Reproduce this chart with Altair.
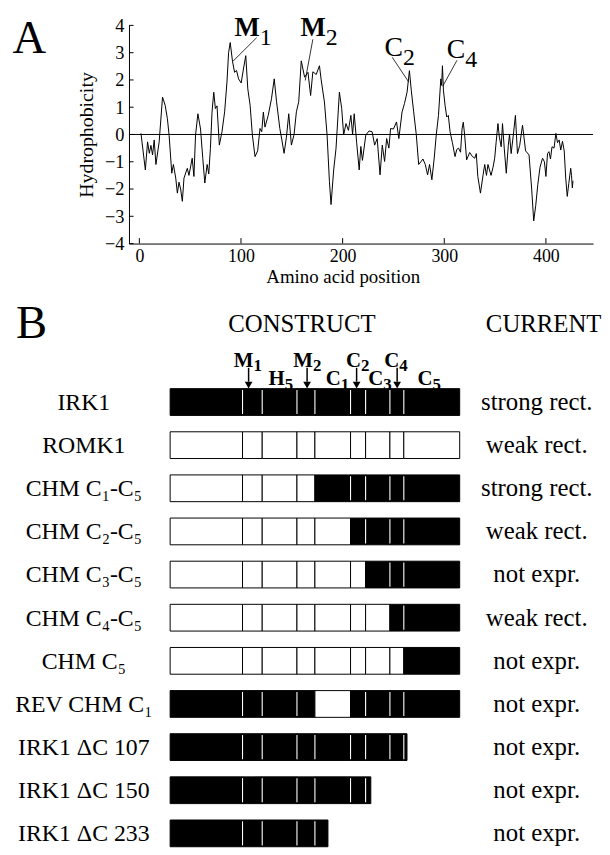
import altair as alt
import pandas as pd

FONT = "Liberation Serif"

# ---------------- Panel A: hydrophobicity profile ----------------
aa_pos = [1.6, 5.9, 8.1, 9.8, 11.4, 13.0, 14.6, 16.3, 19.5, 22.8, 25.4, 27.6, 29.3, 31.9, 33.5,
          35.8, 37.4, 39.0, 40.6, 42.3, 43.9, 47.2, 48.8, 52.0, 53.7, 55.3, 57.6, 60.2, 62.4,
          64.4, 66.7, 68.3, 69.9, 71.5, 73.2, 74.8, 76.4, 78.7, 81.3, 83.9, 86.2, 87.8, 89.4,
          91.7, 93.7, 95.6, 97.6, 100.2, 102.4, 104.7, 106.7, 109.0, 111.2, 113.8, 116.4,
          118.7, 120.4, 122.0, 123.6, 126.8, 130.0, 132.7, 135.0, 138.2, 140.2, 142.4, 144.7,
          147.0, 149.6, 152.2, 154.5, 156.8, 159.3, 162.6, 165.9, 168.5, 170.7, 174.0, 177.2,
          178.9, 182.1, 184.7, 187.0, 188.6, 191.2, 193.5, 196.8, 199.1, 201.0, 203.3, 205.7,
          208.1, 209.8, 211.4, 213.8, 216.3, 217.9, 219.5, 222.8, 226.0, 229.0, 231.5, 234.0,
          236.8, 239.0, 241.3, 243.3, 245.5, 247.2, 250.0, 253.0, 255.3, 258.5, 260.8, 263.4,
          265.7, 267.6, 269.9, 272.5, 274.8, 277.0, 279.0, 281.3, 283.6, 285.5, 287.8, 290.1,
          292.1, 294.3, 296.6, 297.4, 298.2, 299.2, 300.8, 302.4, 304.0, 305.7, 308.0, 310.6,
          312.3, 314.0, 316.0, 317.5, 318.7, 320.0, 322.0, 325.0, 327.5, 330.0, 331.5, 333.0,
          335.6, 338.2, 339.8, 341.5, 343.0, 344.5, 346.0, 348.0, 349.6, 351.0, 352.8, 354.2,
          356.0, 357.3, 359.0, 361.0, 363.0, 364.2, 365.8, 368.0, 370.0, 372.0, 374.2, 377.0,
          380.0, 383.4, 386.0, 388.0, 390.0, 392.0, 394.2, 396.7, 398.5, 400.0, 401.6, 403.0,
          404.5, 406.0, 408.0, 409.8, 411.4, 413.0, 414.6, 416.3, 418.0, 419.5, 421.0, 422.5,
          424.4, 425.2, 426.0, 426.6]
hydro = [0.04, -1.3, -0.27, -0.69, -0.4, -0.75, -0.2, -1.1, -0.27, 1.37, 1.07, 0.58, -0.04,
         -1.42, -1.1, -1.6, -2.15, -1.75, -2.0, -2.45, -1.6, -1.24, -1.5, -0.87, -1.54, -0.02,
         0.76, 0.2, -0.87, -1.78, -1.1, -1.45, -0.51, 0.82, 1.55, 0.95, 1.05, -0.39, 0.1, 0.83,
         1.92, 3.0, 3.37, 2.67, 2.28, 2.35, 2.04, 1.89, 2.4, 2.89, 1.67, 1.07, -0.02, -0.81,
         -0.6, 0.22, 0.1, 0.82, 0.27, 0.7, 1.31, 2.04, 1.2, 0.22, -0.2, -0.69, -0.1, 0.76,
         -0.39, 0.0, 0.83, 1.2, 2.7, 2.1, 2.28, 1.43, 2.3, 2.2, 2.52, 2.0, 1.19, -0.02, -1.72,
         -2.57, -1.3, -0.51, 1.55, 0.95, -0.02, 0.4, 0.15, 0.7, 0.0, 0.76, -0.3, -1.3, -0.44,
         -0.95, -0.02, 0.13, 0.1, -0.39, -0.15, -1.48, -0.39, -0.99, -0.15, -0.5, 0.22, 0.2,
         0.46, -0.15, 0.83, 1.13, 1.55, 2.34, 1.6, 0.83, -0.02, -1.1, -1.0, -0.9, -1.1, -1.48,
         -1.1, -1.66, -0.87, -0.02, 0.7, 2.04, 1.8, 2.52, 1.6, 1.07, 0.64, 0.7, 0.1, -0.3,
         -0.81, -0.55, -0.5, -0.65, 0.2, 0.45, 0.0, -0.93, -0.66, -0.8, -0.87, -0.7, -1.54,
         -2.15, -1.48, -1.1, -1.5, -1.1, -1.3, -1.5, -1.2, -0.87, -0.3, 0.4, -0.1, -0.45, 0.4,
         -0.5, -1.42, -0.4, 0.0, -0.7, 0.0, 0.7, -0.7, -0.4, 0.34, -0.6, -0.75, -2.0, -3.17,
         -2.6, -1.84, -1.2, -0.87, -1.0, -1.54, -0.7, -0.63, -0.9, -0.45, -0.5, 0.04, -0.3,
         -0.2, -0.57, -0.25, -0.6, -1.6, -2.27, -1.8, -1.24, -1.5, -1.96, -1.7]

x_ticks = [0, 100, 200, 300, 400]
y_ticks = [-4, -3, -2, -1, 0, 1, 2, 3, 4]
x_title = "Amino acid position"
y_title = "Hydrophobicity"
x_domain = [-10.2, 446.4]
y_domain = [-4, 4]

peak_main = ["M", "M", "C", "C"]
peak_sub = ["1", "2", "2", "4"]
peak_weight = ["bold", "bold", "normal", "normal"]
peak_text_x = [118.5, 183.4, 259.5, 320.6]
peak_text_y = [3.615, 3.615, 2.887, 2.79]
lead_x1 = [115.4, 170.7, 248.8, 312.5]
lead_y1 = [3.55, 3.49, 2.83, 2.72]
lead_x2 = [91.7, 163.2, 265.1, 298.5]
lead_y2 = [2.67, 1.98, 1.92, 1.77]

panel_a_letter = ["A"]
panel_a_letter_x = [-124.9]
panel_a_letter_y = [3.0]

# ---------------- Panel B: chimeric constructs ----------------
constructs = ["IRK1", "ROMK1", "CHM C₁-C₅", "CHM C₂-C₅", "CHM C₃-C₅", "CHM C₄-C₅",
              "CHM C₅", "REV CHM C₁", "IRK1 ΔC 107", "IRK1 ΔC 150", "IRK1 ΔC 233"]
currents = ["strong rect.", "weak rect.", "strong rect.", "weak rect.", "not expr.",
            "weak rect.", "not expr.", "not expr.", "not expr.", "not expr.", "not expr."]
segments = ["N", "M1", "H5", "M2", "C1", "C2", "C3", "C4", "C5"]
seg_edges = [0, 25.0, 31.8, 43.8, 50.0, 62.3, 67.5, 75.9, 80.7, 100.0]
# K = IRK1-derived (black), R = ROMK1-derived (white)
origin = ["KKKKKKKKK", "RRRRRRRRR", "RRRRKKKKK", "RRRRRKKKK", "RRRRRRKKK", "RRRRRRRKK",
          "RRRRRRRRK", "KKKKRKKKK", "KKKKKKKKK", "KKKKKKKKK", "KKKKKKKKK"]
bar_end = [100, 100, 100, 100, 100, 100, 100, 100, 81.8, 69.3, 54.5]

arrow_x = [27.1, 47.3, 64.4, 78.4]
top_main = ["M", "M", "C", "C"]
top_sub = ["1", "2", "2", "4"]
top_x = [28.8, 49.3, 65.9, 79.1]
low_main = ["H", "C", "C", "C"]
low_sub = ["5", "1", "3", "5"]
low_x = [39.6, 58.9, 73.6, 90.6]

headers = ["CONSTRUCT", "CURRENT"]
header_x = [45.5, 129.0]
panel_b_letter = ["B"]
panel_b_letter_x = [-53.2]

label_x = -29.8
current_x = 126.6
xb_domain = [-14.21, 146.06]
yb_domain = [-2.478, 10.304]
HALF = 0.31

# ---------- build panel A ----------
WA, HA = 468, 220
xs = alt.Scale(domain=x_domain, nice=False, zero=False)
ys = alt.Scale(domain=y_domain, nice=False, zero=False)

ax_x = alt.Axis(values=x_ticks, format="d", grid=False, ticks=False, tickSize=0,
                labelPadding=4, labelFontSize=18, labelFlush=False, labelOverlap=False,
                domainColor="black", titleFontSize=19, titleFontWeight="normal",
                titleX=215.5, titleY=39.3, titleBaseline="alphabetic", titleAlign="center")
ax_y = alt.Axis(values=y_ticks, format="d", grid=False, ticks=False, tickSize=0,
                labelPadding=5, labelFontSize=18.5, labelFlush=False, labelOverlap=False,
                domainColor="black", titleFontSize=20, titleFontWeight="normal",
                titleX=-42.5, titleY=110, titleBaseline="middle", titleAlign="center")


def XA(f):
    return alt.X(f, scale=xs, title=x_title, axis=ax_x)


def YA(f):
    return alt.Y(f, scale=ys, title=y_title, axis=ax_y)


df_h = pd.DataFrame({"pos": aa_pos, "h": hydro})
line = alt.Chart(df_h).mark_line(color="black", strokeWidth=1).encode(
    x=XA("pos:Q"), y=YA("h:Q"))

zero = alt.Chart(pd.DataFrame({"h": [0]})).mark_rule(color="black", strokeWidth=1).encode(
    y=YA("h:Q"))

df_xt = pd.DataFrame({"pos": x_ticks, "y0": [y_domain[0]] * len(x_ticks)})
xtick = alt.Chart(df_xt).transform_calculate(y1="datum.y0 + 0.2").mark_rule(
    color="black", strokeWidth=1).encode(x=XA("pos:Q"), y=YA("y0:Q"), y2="y1:Q")

df_yt = pd.DataFrame({"h": y_ticks, "x0": [x_domain[0]] * len(y_ticks)})
ytick = alt.Chart(df_yt).transform_calculate(x1="datum.x0 + 4.5").mark_rule(
    color="black", strokeWidth=1).encode(y=YA("h:Q"), x=XA("x0:Q"), x2="x1:Q")

df_lead = pd.DataFrame({"x1": lead_x1, "y1": lead_y1, "x2": lead_x2, "y2": lead_y2})
leads = alt.Chart(df_lead).mark_rule(color="black", strokeWidth=0.8).encode(
    x=XA("x1:Q"), y=YA("y1:Q"), x2="x2:Q", y2="y2:Q")

df_pk = pd.DataFrame({"x": peak_text_x, "y": peak_text_y, "m": peak_main, "s": peak_sub,
                      "w": peak_weight})
pk_bold = alt.Chart(df_pk).transform_filter("datum.w == 'bold'").mark_text(
    align="right", baseline="alphabetic", fontSize=27, fontWeight="bold", color="black").encode(
    x=XA("x:Q"), y=YA("y:Q"), text="m:N")
pk_norm = alt.Chart(df_pk).transform_filter("datum.w == 'normal'").mark_text(
    align="right", baseline="alphabetic", fontSize=28, color="black").encode(
    x=XA("x:Q"), y=YA("y:Q"), text="m:N")
pk_sub = alt.Chart(df_pk).mark_text(
    align="left", baseline="alphabetic", fontSize=24, dy=9, color="black").encode(
    x=XA("x:Q"), y=YA("y:Q"), text="s:N")

df_la = pd.DataFrame({"x": panel_a_letter_x, "y": panel_a_letter_y, "t": panel_a_letter})
letter_a = alt.Chart(df_la).mark_text(
    align="left", baseline="alphabetic", fontSize=47, color="black").encode(
    x=XA("x:Q"), y=YA("y:Q"), text="t:N")

panel_a = alt.layer(line, zero, xtick, ytick, leads, pk_bold, pk_norm, pk_sub, letter_a
                    ).properties(width=WA, height=HA)

# ---------- build panel B ----------
WB, HB = 468, 556
xbs = alt.Scale(domain=xb_domain, nice=False, zero=False)
ybs = alt.Scale(domain=yb_domain, nice=False, zero=False, reverse=True)


def XB(f):
    return alt.X(f, scale=xbs, axis=None)


def YB(f):
    return alt.Y(f, scale=ybs, axis=None)


rect_rows, div_rows = [], []
for r, (orig, end) in enumerate(zip(origin, bar_end)):
    for i in range(len(segments)):
        a, b = seg_edges[i], seg_edges[i + 1]
        if a >= end:
            break
        rect_rows.append({"row": r, "x0": a, "x1": min(b, end),
                          "fill": "black" if orig[i] == "K" else "white"})
    for i in range(1, len(segments)):
        e = seg_edges[i]
        if e < end and orig[i - 1] == "K" and orig[i] == "K":
            div_rows.append({"row": r, "x": e})

df_rect = pd.DataFrame(rect_rows)
bars = alt.Chart(df_rect).transform_calculate(
    y0=f"datum.row - {HALF}", y1=f"datum.row + {HALF}").mark_rect(
    stroke="black", strokeWidth=1).encode(
    x=XB("x0:Q"), x2="x1:Q", y=YB("y0:Q"), y2="y1:Q",
    fill=alt.Fill("fill:N", scale=None, legend=None))

df_div = pd.DataFrame(div_rows)
divs = alt.Chart(df_div).transform_calculate(
    y0=f"datum.row - {HALF - 0.03}", y1=f"datum.row + {HALF - 0.03}").mark_rule(
    color="white", strokeWidth=1.1).encode(x=XB("x:Q"), y=YB("y0:Q"), y2="y1:Q")

df_rows = pd.DataFrame({"row": list(range(len(constructs))), "name": constructs,
                        "cur": currents, "lx": [label_x] * len(constructs),
                        "cx": [current_x] * len(constructs)})
names = alt.Chart(df_rows).mark_text(
    align="center", baseline="alphabetic", dy=8, fontSize=24, color="black").encode(
    x=XB("lx:Q"), y=YB("row:Q"), text="name:N")
curs = alt.Chart(df_rows).mark_text(
    align="center", baseline="alphabetic", dy=8, fontSize=25, color="black").encode(
    x=XB("cx:Q"), y=YB("row:Q"), text="cur:N")

df_head = pd.DataFrame({"x": header_x, "y": [-1.62] * 2, "t": headers})
heads = alt.Chart(df_head).mark_text(
    align="center", baseline="alphabetic", fontSize=25, color="black").encode(
    x=XB("x:Q"), y=YB("y:Q"), text="t:N")

df_lb = pd.DataFrame({"x": panel_b_letter_x, "y": [-1.48], "t": panel_b_letter})
letter_b = alt.Chart(df_lb).mark_text(
    align="left", baseline="alphabetic", fontSize=47, color="black").encode(
    x=XB("x:Q"), y=YB("y:Q"), text="t:N")

df_seg = pd.DataFrame({"x": top_x + low_x, "y": [-0.823] * 4 + [-0.402] * 4,
                       "m": top_main + low_main, "s": top_sub + low_sub})
seg_main = alt.Chart(df_seg).mark_text(
    align="right", baseline="alphabetic", fontSize=21, fontWeight="bold", color="black").encode(
    x=XB("x:Q"), y=YB("y:Q"), text="m:N")
seg_sub = alt.Chart(df_seg).mark_text(
    align="left", baseline="alphabetic", fontSize=17, fontWeight="bold", dy=5,
    color="black").encode(x=XB("x:Q"), y=YB("y:Q"), text="s:N")

df_arr = pd.DataFrame({"x": arrow_x, "y0": [-0.793] * 4, "y1": [-0.471] * 4,
                       "yh": [-0.391] * 4})
shafts = alt.Chart(df_arr).mark_rule(color="black", strokeWidth=1.5).encode(
    x=XB("x:Q"), y=YB("y0:Q"), y2="y1:Q")
heads_arr = alt.Chart(df_arr).mark_point(
    shape="triangle-down", filled=True, size=60, color="black", opacity=1).encode(
    x=XB("x:Q"), y=YB("yh:Q"))

panel_b = alt.layer(bars, divs, names, curs, heads, letter_b, seg_main, seg_sub, shafts,
                    heads_arr).properties(width=WB, height=HB)

chart = alt.vconcat(panel_a, panel_b, spacing=52, bounds="flush").properties(
    padding={"left": 4, "top": 2, "right": 0, "bottom": 0}
).configure(font=FONT).configure_view(stroke=None).configure_axis(
    labelFont=FONT, titleFont=FONT, labelColor="black", titleColor="black",
    domainColor="black", domainWidth=1, labelFontSize=18, titleFontSize=19,
    titleFontWeight="normal", labelOverlap=False, grid=False
).configure_text(font=FONT)

chart.save("out.html", embed_options={"renderer": "svg", "actions": False})
